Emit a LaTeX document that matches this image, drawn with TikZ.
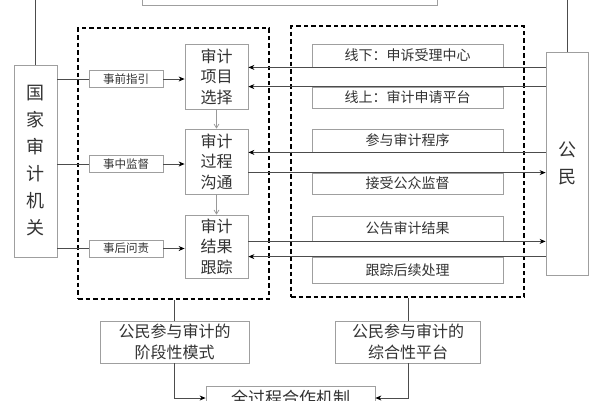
\documentclass[tikz,border=0pt]{standalone}
\usepackage{fontspec}
\newfontfamily\cjk{Noto Sans CJK SC}
\usetikzlibrary{arrows.meta}
\begin{document}
\begin{tikzpicture}[x=1pt,y=-1pt,
  box/.style={draw=gray!75, line width=0.8pt, inner sep=0pt, align=center, text=black!80},
  rbox/.style={box, minimum width=191pt, font=\cjk\fontsize{14}{16}\selectfont},
  sbox/.style={box, minimum width=74pt, minimum height=17pt, font=\cjk\fontsize{11.5}{13}\selectfont},
  bbox/.style={box, minimum width=63pt, minimum height=65pt, font=\cjk\fontsize{16}{20.5}\selectfont},
  dbox/.style={draw=black, line width=1.3pt, dash pattern=on 4.5pt off 3pt, inner sep=0pt},
  conn/.style={draw=gray!60!black, line width=0.8pt},
  arr/.style={conn, -{Stealth[length=6pt,width=5pt,black]}},
  garr/.style={draw=gray!80, line width=0.7pt, -{Straight Barb[length=4pt,width=5pt]}}
]
\useasboundingbox (0,0) rectangle (600,400);
\fill[white] (0,0) rectangle (600,400);
\begin{scope}
\clip (0,0) rectangle (600,400);

% top box (cut off)
\node[box, minimum width=295pt, minimum height=30pt] (top) at (289.5,-10) {};

% side boxes
\node[box, minimum width=43pt, minimum height=192pt, font=\cjk\fontsize{18}{27}\selectfont] (gov) at (35.5,161) {国\\家\\审\\计\\机\\关};
\node[box, minimum width=42pt, minimum height=223pt, font=\cjk\fontsize{18}{27}\selectfont] (pub) at (567,163.5) {公\\民};

% dashed groups
\node[dbox, minimum width=191pt, minimum height=271pt] (lgrp) at (173.5,163.5) {};
\node[dbox, minimum width=233pt, minimum height=271pt] (rgrp) at (407.5,161.5) {};

% small boxes
\node[sbox] (s1) at (126,79) {事前指引};
\node[sbox] (s2) at (126,164) {事中监督};
\node[sbox] (s3) at (126,248.5) {事后问责};

% big boxes
\node[bbox] (A) at (216.5,76.5) {审计\\项目\\选择};
\node[bbox] (B) at (216.5,161.5) {审计\\过程\\沟通};
\node[bbox, minimum height=63pt] (C) at (216.5,246.5) {审计\\结果\\跟踪};

% right column boxes
\node[rbox, minimum height=23pt] (r1) at (407.5,55.5) {线下：申诉受理中心};
\node[rbox, minimum height=21pt] (r2) at (407.5,97.5) {线上：审计申请平台};
\node[rbox, minimum height=23pt] (r3) at (407.5,140.5) {参与审计程序};
\node[rbox, minimum height=21pt] (r4) at (407.5,183.5) {接受公众监督};
\node[rbox, minimum height=25pt] (r5) at (407.5,228.5) {公告审计结果};
\node[rbox, minimum height=26pt] (r6) at (407.5,270) {跟踪后续处理};

% bottom boxes
\node[box, minimum width=149pt, minimum height=42pt, font=\cjk\fontsize{16}{21}\selectfont] (L) at (174.5,342) {公民参与审计的\\阶段性模式};
\node[box, minimum width=145pt, minimum height=42pt, font=\cjk\fontsize{16}{21}\selectfont] (R) at (408,342) {公民参与审计的\\综合性平台};
\node[box, minimum width=169pt, minimum height=24pt, font=\cjk\fontsize{17}{20}\selectfont] (bot) at (290.5,398) {全过程合作机制};

% top connections
\draw[conn] (gov.north) |- (top.west);
\draw[conn] (pub.north) |- (top.east);

% left connections
\foreach \s/\b in {s1/A, s2/B, s3/C}{
  \draw[conn] (gov.east |- \s.west) -- (\s.west);
  \draw[arr] (\s.east) -- (\b.west |- \s.east);
}
\draw[garr] (A.south) -- (B.north);
\draw[garr] (B.south) -- (C.north);

% right connections
\draw[arr] (pub.west |- r1.south) -- (A.east |- r1.south);
\draw[arr] (pub.west |- r2.north) -- (A.east |- r2.north);
\draw[arr] (pub.west |- r3.south) -- (B.east |- r3.south);
\draw[arr] (B.east |- r4.north) -- (pub.west |- r4.north);
\draw[arr] (C.east |- r5.south) -- (pub.west |- r5.south);
\draw[arr] (pub.west |- r6.north) -- (C.east |- r6.north);

% bottom connections
\draw[conn] (L.north) -- (L.north |- lgrp.south);
\draw[conn] (R.north) -- (R.north |- rgrp.south);
\draw[arr] (L.south) |- (bot.west);
\draw[arr] (R.south) |- (bot.east);
\end{scope}
\end{tikzpicture}
\end{document}
